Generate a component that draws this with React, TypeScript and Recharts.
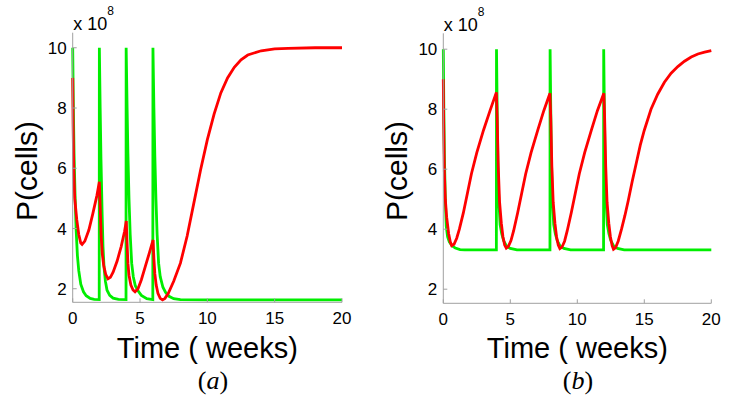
import React from 'react';
import { LineChart, Line, XAxis, YAxis } from 'recharts';

// time in weeks, P in units of 1e8 cells
const timeTicks = [0, 5, 10, 15, 20];
const cellTicks = [2, 4, 6, 8, 10];

const greenA = [
  [0, 10], [0.05, 8], [0.1, 6.5], [0.17, 5.2], [0.25, 4.0], [0.35, 3.1], [0.45, 2.6], [0.6, 2.15], [0.8, 1.9],
  [1.0, 1.77], [1.3, 1.68], [1.6, 1.65], [1.97, 1.64],
  [1.98, 10], [2.04, 8], [2.1, 6.3], [2.18, 4.6], [2.25, 3.4], [2.33, 2.7], [2.43, 2.25], [2.55, 1.95],
  [2.75, 1.78], [3.0, 1.69], [3.4, 1.65], [3.96, 1.64],
  [3.97, 10], [4.04, 8], [4.1, 6.5], [4.18, 5.0], [4.27, 3.8], [4.38, 2.85], [4.5, 2.4], [4.65, 2.1],
  [4.85, 1.93], [5.1, 1.78], [5.5, 1.67], [5.95, 1.64],
  [5.96, 10], [6.03, 8], [6.1, 6.4], [6.18, 5.0], [6.27, 3.8], [6.38, 2.85], [6.5, 2.4], [6.7, 2.05],
  [6.9, 1.88], [7.15, 1.75], [7.5, 1.67], [8, 1.64], [10, 1.63], [20, 1.63],
];

const redA = [
  [0, 9.0], [0.03, 7.5], [0.08, 5.9], [0.15, 5.0], [0.3, 4.3], [0.45, 3.8], [0.6, 3.52], [0.7, 3.47],
  [0.9, 3.58], [1.2, 3.95], [1.5, 4.5], [1.8, 5.1], [1.98, 5.55],
  [2.05, 4.6], [2.12, 3.7], [2.2, 3.15], [2.3, 2.78], [2.45, 2.48], [2.62, 2.33], [2.8, 2.38], [3.0, 2.55],
  [3.3, 2.92], [3.6, 3.4], [3.85, 3.9], [3.98, 4.25],
  [4.04, 3.5], [4.1, 2.85], [4.18, 2.45], [4.32, 2.12], [4.48, 1.96], [4.63, 1.9], [4.85, 2.0], [5.1, 2.3],
  [5.4, 2.75], [5.7, 3.2], [5.97, 3.62],
  [6.03, 3.0], [6.1, 2.5], [6.2, 2.12], [6.33, 1.85], [6.5, 1.68], [6.67, 1.63], [6.85, 1.68], [7.1, 1.85],
  [7.5, 2.25], [8.0, 2.85], [8.5, 3.75], [9.0, 4.85], [9.5, 5.95], [10.0, 6.95], [10.5, 7.8], [11.0, 8.5],
  [11.5, 9.0], [12.0, 9.35], [12.5, 9.6], [13, 9.76], [14, 9.9], [15, 9.96], [16, 9.98], [18, 10], [20, 10],
];

const greenB = [
  [0, 10], [0.04, 8], [0.08, 6.5], [0.14, 5.2], [0.22, 4.1], [0.32, 3.75], [0.45, 3.58], [0.65, 3.45],
  [0.9, 3.37], [1.25, 3.32], [1.6, 3.31], [3.96, 3.31],
  [3.97, 10], [4.02, 8], [4.07, 6.3], [4.14, 5.0], [4.24, 4.15], [4.36, 3.85], [4.5, 3.62], [4.73, 3.43],
  [5.0, 3.36], [5.5, 3.31], [7.96, 3.31],
  [7.97, 10], [8.02, 8], [8.07, 6.3], [8.14, 5.0], [8.24, 4.15], [8.36, 3.85], [8.5, 3.62], [8.73, 3.43],
  [9.0, 3.36], [9.5, 3.31], [11.96, 3.31],
  [11.97, 10], [12.02, 8], [12.07, 6.3], [12.14, 5.0], [12.24, 4.15], [12.36, 3.85], [12.5, 3.62], [12.73, 3.43],
  [13.0, 3.36], [13.5, 3.31], [20, 3.31],
];

const redB = [
  [0, 9.0], [0.03, 7.5], [0.08, 5.9], [0.15, 5.0], [0.25, 4.4], [0.4, 3.85], [0.52, 3.58], [0.63, 3.45],
  [0.8, 3.5], [1.0, 3.7], [1.2, 4.0], [1.5, 4.55], [1.8, 5.2], [2.1, 5.85], [2.5, 6.55], [3.0, 7.3],
  [3.5, 7.97], [3.96, 8.56],
  [4.02, 7.7], [4.1, 6.1], [4.2, 4.9], [4.33, 4.2], [4.45, 3.75], [4.58, 3.47], [4.7, 3.37], [4.85, 3.42],
  [5.05, 3.62], [5.25, 3.95], [5.55, 4.55], [5.85, 5.2], [6.15, 5.85], [6.55, 6.55], [7.05, 7.3], [7.5, 7.95],
  [7.96, 8.53],
  [8.02, 7.7], [8.1, 6.1], [8.2, 4.9], [8.33, 4.2], [8.45, 3.75], [8.58, 3.47], [8.7, 3.35], [8.85, 3.4],
  [9.05, 3.6], [9.25, 3.95], [9.55, 4.55], [9.85, 5.2], [10.15, 5.85], [10.55, 6.55], [11.05, 7.3], [11.5, 7.95],
  [11.98, 8.53],
  [12.04, 7.7], [12.12, 6.1], [12.22, 4.9], [12.35, 4.2], [12.47, 3.75], [12.6, 3.45], [12.7, 3.33],
  [12.85, 3.38], [13.05, 3.6], [13.3, 4.0], [13.55, 4.45], [13.8, 4.95], [14.1, 5.6], [14.4, 6.2],
  [14.7, 6.8], [15.0, 7.3], [15.5, 8.0], [16.0, 8.5], [16.5, 8.9], [17.0, 9.2], [17.5, 9.42], [18.0, 9.6],
  [18.5, 9.74], [19.0, 9.84], [19.5, 9.9], [20, 9.95],
];

const toPoints = (pairs: number[][]) => pairs.map(([t, v]) => ({ t, v }));

const sans = '"Liberation Sans", Arial, Helvetica, sans-serif';
const serif = '"Liberation Serif", "DejaVu Serif", serif';
const boxColor = '#a0a0a0';
const H = 399;

type PanelProps = {
  left: number;
  width: number;
  plot: { l: number; r: number; t: number; b: number };
  yDomain: [number, number];
  green: number[][];
  red: number[][];
  tag: string;
  tagX: number;
  yLabelX: number;
  expY: number;
};

const Panel = ({ left, width, plot, yDomain, green, red, tag, tagX, yLabelX, expY }: PanelProps) => {
  const cx = (plot.l + plot.r) / 2;
  const tickStyle = { fill: '#000', fontSize: 17, fontFamily: sans };
  return (
    <div style={{ position: 'absolute', left, top: 0, width, height: H }}>
      <LineChart
        width={width}
        height={H}
        margin={{ left: plot.l - 40, right: width - plot.r, top: plot.t, bottom: H - plot.b - 30 }}
      >
        <XAxis
          xAxisId="bottom"
          dataKey="t"
          type="number"
          domain={[0, 20]}
          ticks={timeTicks}
          height={30}
          tickSize={-4}
          tickMargin={14}
          axisLine={{ stroke: boxColor }}
          tickLine={{ stroke: boxColor }}
          tick={tickStyle}
        />
        <XAxis
          xAxisId="top"
          orientation="top"
          dataKey="t"
          type="number"
          domain={[0, 20]}
          ticks={timeTicks}
          height={0}
          tickSize={-4}
          axisLine={{ stroke: boxColor }}
          tickLine={{ stroke: boxColor }}
          tick={false}
        />
        <YAxis
          yAxisId="left"
          type="number"
          domain={yDomain}
          ticks={cellTicks}
          width={40}
          tickSize={-4}
          tickMargin={10}
          axisLine={{ stroke: boxColor }}
          tickLine={{ stroke: boxColor }}
          tick={tickStyle}
        />
        <YAxis
          yAxisId="right"
          orientation="right"
          type="number"
          domain={yDomain}
          ticks={cellTicks}
          width={0}
          tickSize={-4}
          axisLine={{ stroke: boxColor }}
          tickLine={{ stroke: boxColor }}
          tick={false}
        />
        <Line
          xAxisId="bottom"
          yAxisId="left"
          data={toPoints(green)}
          dataKey="v"
          type="linear"
          stroke="#00ee00"
          strokeWidth={2.8}
          dot={false}
          isAnimationActive={false}
        />
        <Line
          xAxisId="bottom"
          yAxisId="left"
          data={toPoints(red)}
          dataKey="v"
          type="linear"
          stroke="#ff0000"
          strokeWidth={2.8}
          dot={false}
          isAnimationActive={false}
        />
      </LineChart>
      <svg width={width} height={H} style={{ position: 'absolute', left: 0, top: 0, pointerEvents: 'none' }}>
        <text x={plot.l + 0.5} y={expY} fontSize={18} fontFamily={sans} fill="#000">x 10</text>
        <text x={plot.l + 34.5} y={expY - 15} fontSize={12} fontFamily={sans} fill="#000">8</text>
        <text x={cx} y={358} fontSize={29} fontFamily={sans} fill="#000" textAnchor="middle">Time ( weeks)</text>
        <text
          transform={`translate(${yLabelX}, 171) rotate(-90)`}
          fontSize={30}
          fontFamily={sans}
          fill="#000"
          textAnchor="middle"
        >
          P(cells)
        </text>
        <text x={tagX} y={389} fontSize={26} fontFamily={serif} fill="#000" textAnchor="middle">
          (<tspan fontStyle="italic">{tag}</tspan>)
        </text>
      </svg>
    </div>
  );
};

export default function App() {
  return (
    <div style={{ position: 'absolute', left: 0, top: 0, width: 747, height: H, background: '#fff' }}>
      <Panel
        left={0}
        width={373}
        plot={{ l: 72.7, r: 342, t: 32.7, b: 302.3 }}
        yDomain={[1.55, 10.5]}
        green={greenA}
        red={redA}
        tag="a"
        tagX={213}
        yLabelX={37}
        expY={30}
      />
      <Panel
        left={373}
        width={374}
        plot={{ l: 70.3, r: 338.3, t: 33.3, b: 303.3 }}
        yDomain={[1.53, 10.53]}
        green={greenB}
        red={redB}
        tag="b"
        tagX={205}
        yLabelX={34}
        expY={31}
      />
    </div>
  );
}
